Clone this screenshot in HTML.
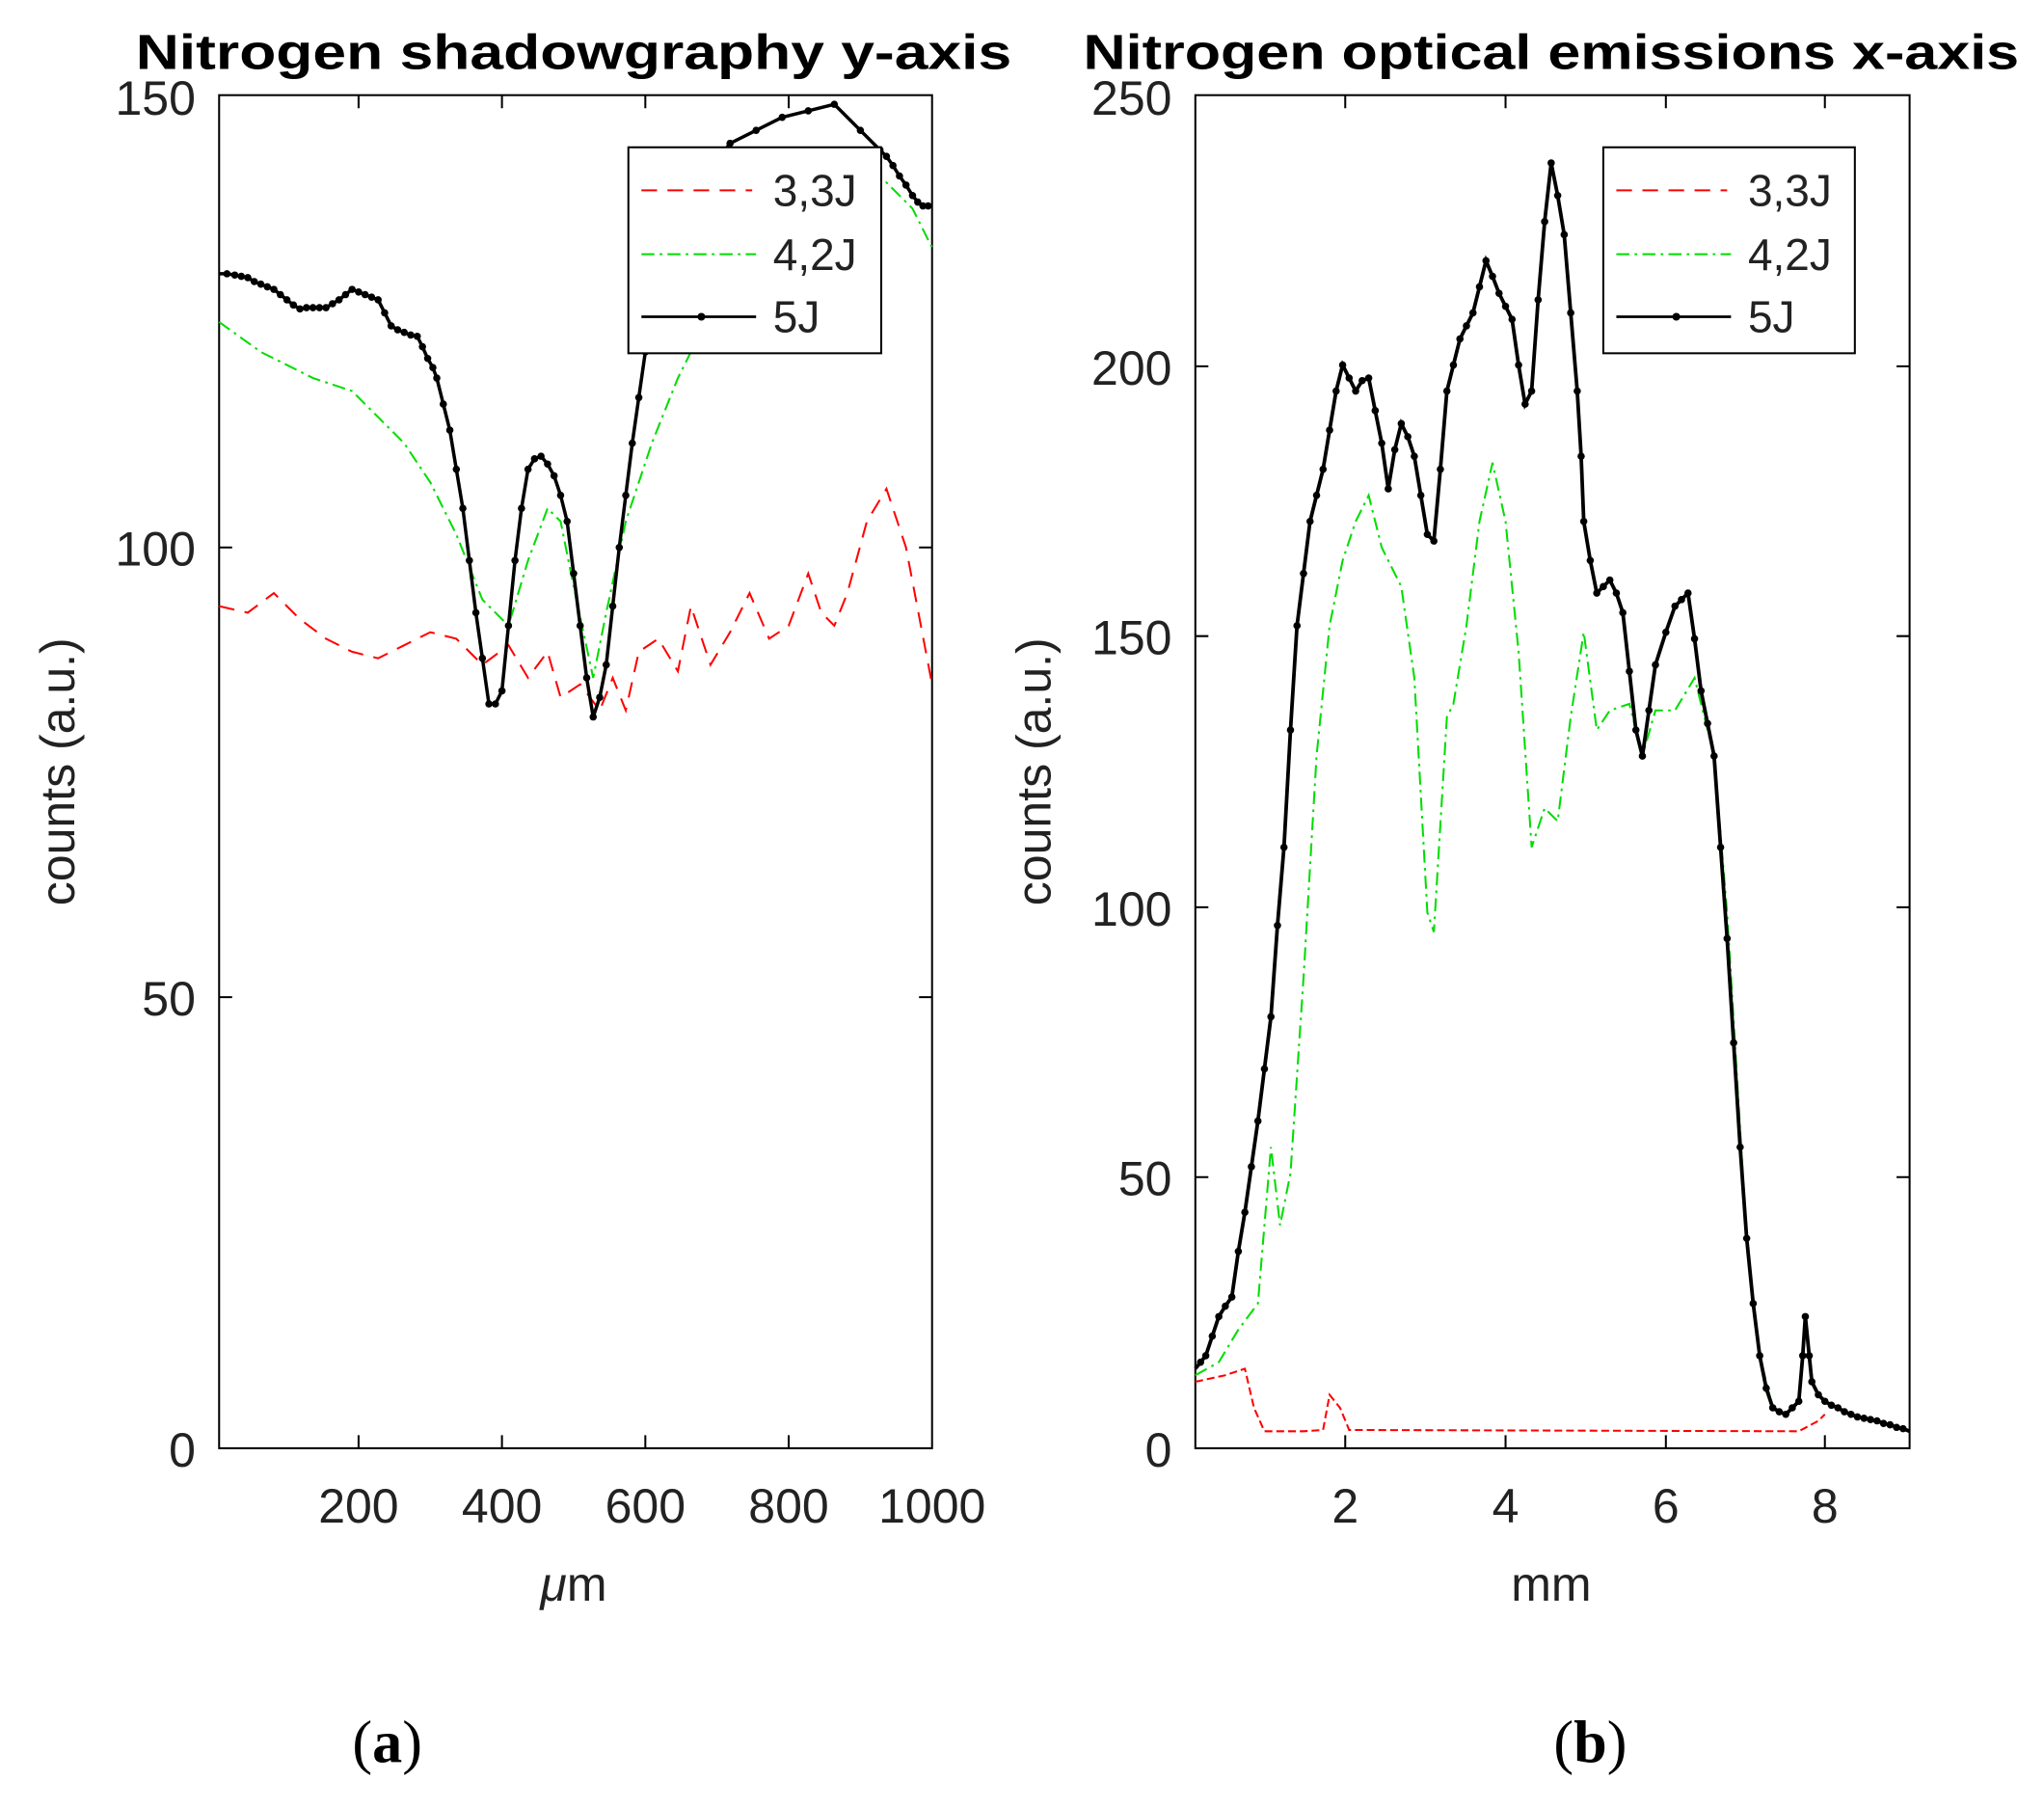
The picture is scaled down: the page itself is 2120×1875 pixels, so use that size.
<!DOCTYPE html>
<html><head><meta charset="utf-8"><style>html,body{margin:0;padding:0;background:#fff}svg{display:block}</style></head><body>
<svg width="2120" height="1875" viewBox="0 0 1568 1387" xmlns="http://www.w3.org/2000/svg" font-family="Liberation Sans, Arial, sans-serif">
<defs><marker id="d" markerWidth="6" markerHeight="6" refX="3" refY="3" markerUnits="userSpaceOnUse"><circle cx="3" cy="3" r="2.8" fill="#000"/></marker></defs>
<rect width="1568" height="1387" fill="#fff"/>
<text x="440" y="53" font-size="38" font-weight="bold" text-anchor="middle" textLength="672" lengthAdjust="spacingAndGlyphs">Nitrogen  shadowgraphy  y-axis</text>
<text x="1190" y="53" font-size="38" font-weight="bold" text-anchor="middle" textLength="718" lengthAdjust="spacingAndGlyphs">Nitrogen optical emissions  x-axis</text>
<g stroke="#000" stroke-width="1.5" fill="none">
<rect x="168" y="73" width="547" height="1038"/>
<path d="M275 73v10M385 73v10M495 73v10M605 73v10M275 1111v-10M385 1111v-10M495 1111v-10M605 1111v-10M168 420h10M168 765h10M715 420h-10M715 765h-10"/>
</g>
<g font-size="37" fill="#222" text-anchor="end">
<text x="150" y="88">150</text><text x="150" y="434">100</text><text x="150" y="779">50</text><text x="150" y="1125">0</text>
</g>
<g font-size="37" fill="#222" text-anchor="middle">
<text x="275" y="1168">200</text><text x="385" y="1168">400</text><text x="495" y="1168">600</text><text x="605" y="1168">800</text><text x="715" y="1168">1000</text>
<text x="440" y="1228"><tspan font-style="italic">μ</tspan>m</text>
</g>
<text transform="translate(57,592) rotate(-90)" font-size="37" fill="#222" text-anchor="middle">counts (a.u.)</text>
<polyline fill="none" stroke="#f00" stroke-width="1.5" stroke-dasharray="12,8" points="168,465 190,470 210,455 230,475 250,490 270,500 290,505 310,495 330,485 350,490 370,510 390,495 405,520 420,500 430,535 445,525 460,545 470,520 480,545 490,500 505,490 520,515 530,465 545,510 560,485 575,455 590,490 605,480 620,440 630,470 640,480 650,455 665,400 680,375 695,420 715,525"/>
<polyline fill="none" stroke="#0d0" stroke-width="1.5" stroke-dasharray="10,4,2,4" points="168,247 200,270 240,290 270,300 290,320 310,340 330,370 350,410 370,460 390,480 405,430 420,390 430,400 440,450 455,520 465,470 480,400 500,340 520,290 540,250 580,200 640,150 680,140 700,160 715,190"/>
<polyline fill="none" stroke="#000" stroke-width="2.6" marker-mid="url(#d)" points="168,210 174,210 180,211 185,212 190,213 195,216 200,218 205,220 210,222 215,226 220,230 225,234 230,237 235,236 240,236 245,236 250,236 255,233 260,230 265,226 270,222 275,224 280,226 285,228 290,230 295,240 300,250 305,253 310,255 315,257 320,258 324,266 328,275 332,282 335,290 340,310 345,330 350,360 355,390 360,430 365,470 370,505 375,540 380,540 385,530 390,480 395,430 400,390 405,360 410,352 415,350 420,356 425,365 430,380 435,400 440,440 445,480 450,520 455,550 460,535 465,510 470,465 475,420 480,380 485,340 490,305 495,270 502,235 510,200 520,175 530,150 545,130 560,110 580,100 600,90 620,85 640,80 660,100 675,115 680,120 685,127 690,135 695,142 700,150 704,155 708,158 712,158 715,158"/>
<rect x="482" y="113" width="194" height="158" fill="#fff" stroke="#000" stroke-width="1.5"/>
<g stroke-width="1.5" fill="none">
<path d="M492 146h85" stroke="#f00" stroke-dasharray="12,8"/>
<path d="M492 195h88" stroke="#0d0" stroke-dasharray="10,4,2,4"/>
<path d="M492 243h88" stroke="#000" stroke-width="2"/>
</g>
<circle cx="538" cy="243" r="3" fill="#000"/>
<g font-size="34" fill="#222"><text x="593" y="158">3,3J</text><text x="593" y="207">4,2J</text><text x="593" y="255">5J</text></g>
<g stroke="#000" stroke-width="1.5" fill="none">
<rect x="917" y="73" width="548" height="1038"/>
<path d="M1032 73v10M1155 73v10M1278 73v10M1400 73v10M1032 1111v-10M1155 1111v-10M1278 1111v-10M1400 1111v-10M917 281h10M917 488h10M917 696h10M917 903h10M1465 281h-10M1465 488h-10M1465 696h-10M1465 903h-10"/>
</g>
<g font-size="37" fill="#222" text-anchor="end">
<text x="899" y="88">250</text><text x="899" y="295">200</text><text x="899" y="502">150</text><text x="899" y="710">100</text><text x="899" y="917">50</text><text x="899" y="1125">0</text>
</g>
<g font-size="37" fill="#222" text-anchor="middle">
<text x="1032" y="1168">2</text><text x="1155" y="1168">4</text><text x="1278" y="1168">6</text><text x="1400" y="1168">8</text>
<text x="1190" y="1228">mm</text>
</g>
<text transform="translate(806,592) rotate(-90)" font-size="37" fill="#222" text-anchor="middle">counts (a.u.)</text>
<polyline fill="none" stroke="#f00" stroke-width="1.5" stroke-dasharray="6,3" points="917,1060 940,1055 955,1050 962,1080 970,1098 1000,1098 1015,1097 1020,1070 1028,1080 1035,1097 1380,1098 1395,1090 1400,1085"/>
<polyline fill="none" stroke="#0d0" stroke-width="1.5" stroke-dasharray="10,4,2,4" points="917,1055 935,1045 950,1020 965,1000 975,880 982,940 990,900 1000,750 1010,580 1020,480 1030,430 1040,400 1050,380 1060,420 1075,450 1085,520 1095,700 1100,715 1110,550 1115,540 1125,480 1135,400 1145,355 1155,400 1165,500 1175,650 1185,620 1195,630 1205,550 1215,485 1225,560 1235,545 1250,540 1260,580 1270,545 1285,545 1300,520 1315,580 1325,700 1340,950 1350,1040 1360,1080"/>
<polyline fill="none" stroke="#000" stroke-width="2.8" marker-mid="url(#d)" points="917,1050 921,1045 925,1040 930,1025 935,1010 940,1002 945,995 950,960 955,930 960,895 965,860 970,820 975,780 980,710 985,650 990,560 995,480 1000,440 1005,400 1010,380 1015,360 1020,330 1025,300 1030,280 1035,290 1040,300 1045,292 1050,290 1055,315 1060,340 1065,375 1070,345 1075,325 1080,335 1085,350 1090,380 1095,410 1100,415 1105,360 1110,300 1115,280 1120,260 1125,250 1130,240 1135,220 1140,200 1145,212 1150,225 1155,235 1160,245 1165,280 1170,310 1175,300 1180,230 1185,170 1190,125 1195,150 1200,180 1205,240 1210,300 1213,350 1215,400 1220,430 1225,455 1230,450 1235,445 1240,455 1245,470 1250,515 1255,560 1260,580 1265,545 1270,510 1278,485 1285,465 1290,460 1295,455 1300,490 1305,530 1310,555 1315,580 1320,650 1325,720 1330,800 1335,880 1340,950 1345,1000 1350,1040 1355,1065 1360,1080 1365,1083 1370,1085 1375,1080 1380,1075 1383,1040 1385,1010 1388,1040 1390,1060 1395,1070 1400,1075 1405,1078 1410,1080 1415,1083 1420,1085 1425,1087 1430,1088 1435,1089 1440,1090 1445,1092 1450,1093 1455,1095 1460,1096 1465,1098"/>
<rect x="1230" y="113" width="193" height="158" fill="#fff" stroke="#000" stroke-width="1.5"/>
<g stroke-width="1.5" fill="none">
<path d="M1240 146h85" stroke="#f00" stroke-dasharray="12,8"/>
<path d="M1240 195h88" stroke="#0d0" stroke-dasharray="10,4,2,4"/>
<path d="M1240 243h88" stroke="#000" stroke-width="2"/>
</g>
<circle cx="1286" cy="243" r="3" fill="#000"/>
<g font-size="34" fill="#222"><text x="1341" y="158">3,3J</text><text x="1341" y="207">4,2J</text><text x="1341" y="255">5J</text></g>
<g font-family="Liberation Serif, serif" font-size="46" text-anchor="middle" fill="#000">
<text x="297" y="1352">(<tspan font-weight="bold">a</tspan>)</text>
<text x="1220" y="1352">(<tspan font-weight="bold">b</tspan>)</text>
</g>
</svg>
</body></html>
